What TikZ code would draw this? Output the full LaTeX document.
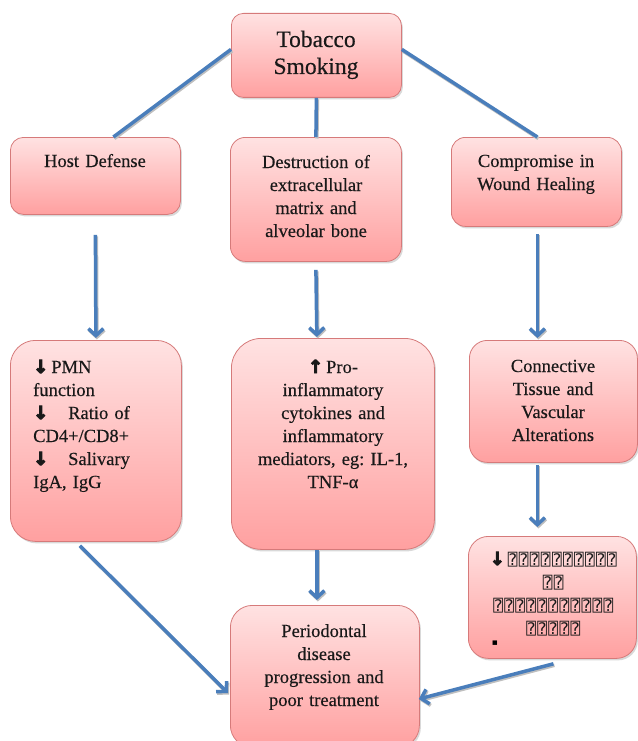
\documentclass[tikz,border=0pt]{standalone}
\usepackage{fontspec}
\setmainfont{Liberation Serif}[FakeBold=0.3]
\newfontfamily\dejavu{DejaVu Sans}
\newfontfamily\arrowfont{DejaVu Sans Bold}[FakeBold=5]
\newfontfamily\dejamono{DejaVu Sans Mono}
\usetikzlibrary{arrows.meta,shadows,calc}
\frenchspacing
\definecolor{boxtop}{RGB}{255,226,226}
\definecolor{boxbot}{RGB}{255,160,160}
\definecolor{boxline}{RGB}{214,122,122}
\definecolor{conn}{RGB}{74,126,187}
\newcommand{\dn}{{\arrowfont\fontsize{18}{18}\selectfont ↓}}
\newcommand{\up}{{\arrowfont\fontsize{18}{18}\selectfont ↑}}
\newcommand{\tf}{{\dejamono\fontsize{16}{16}\selectfont ⍰}\kern1.4pt}
\tikzset{
  pbox/.style={draw=boxline, line width=0.8pt, top color=boxtop, bottom color=boxbot,
    anchor=north west, inner sep=0pt,
    drop shadow={shadow xshift=1.5pt, shadow yshift=-2pt, opacity=0.25, fill=black!60}},
  txt/.style={font=\fontsize{18.5}{23}\selectfont, align=center, inner sep=0pt, anchor=base, text=black!90},
  link/.style={draw=conn, line width=3.5pt,
    preaction={draw=black!25, line width=3.5pt, transform canvas={shift={(1pt,-1.5pt)}}}},
  arr/.style={link, -{Straight Barb[length=7pt,width=15pt]}},
}
\begin{document}
\begin{tikzpicture}[x=1pt,y=-1pt]
\useasboundingbox (0,0) rectangle (637,741);
% boxes
\node[pbox, rounded corners=12pt, minimum width=170pt, minimum height=84pt] (tob) at (231,13) {};
\node[pbox, rounded corners=13pt, minimum width=170pt, minimum height=77pt] (host) at (10,137) {};
\node[pbox, rounded corners=15pt, minimum width=171pt, minimum height=124pt] (dest) at (230,137) {};
\node[pbox, rounded corners=14pt, minimum width=170pt, minimum height=89pt] (comp) at (451,137) {};
\node[pbox, rounded corners=25pt, minimum width=171pt, minimum height=201pt] (pmn) at (10,340) {};
\node[pbox, rounded corners=30pt, minimum width=203pt, minimum height=211pt] (pro) at (231,338) {};
\node[pbox, rounded corners=18pt, minimum width=168pt, minimum height=122pt] (cnt) at (469,340) {};
\node[pbox, rounded corners=20pt, minimum width=168pt, minimum height=122pt] (br) at (468,536) {};
\node[pbox, rounded corners=22pt, minimum width=189pt, minimum height=142pt] (peri) at (230,605) {};
% texts
\node[txt, font=\fontsize{23.5}{27}\selectfont, text width=160pt] (ttob) at (316,47) {Tobacco\\Smoking};
\node[txt, text width=160pt] (thost) at (95,167) {Host Defense};
\node[txt, text width=165pt] (tdest) at (316,168) {Destruction of\\extracellular\\matrix and\\alveolar bone};
\node[txt, text width=165pt] (tcomp) at (536,167) {Compromise in\\Wound Healing};
\node[txt, align=left, anchor=base west, text width=145pt] (tpmn) at (33,373)
  {\dn\,PMN\\function\\\makebox[35pt][l]{\dn}Ratio of\\CD4+/CD8+\\\makebox[35pt][l]{\dn}Salivary\\IgA, IgG};
\node[txt, text width=198pt] (tpro) at (333,373)
  {\up\,Pro-\\inflammatory\\cytokines and\\inflammatory\\mediators, eg: IL-1,\\TNF-α};
\node[txt, text width=165pt] (tcnt) at (553,372) {Connective\\Tissue and\\Vascular\\Alterations};
\node[txt, text width=165pt] (tbr) at (554,565)
  {\dn\kern3pt\tf\tf\tf\tf\tf\tf\tf\tf\tf\tf\\\tf\tf\\\tf\tf\tf\tf\tf\tf\tf\tf\tf\tf\tf\\\tf\tf\tf\tf\tf};
\node[inner sep=0pt, font=\dejavu\fontsize{9}{9}\selectfont] (dot) at (495,643) {▪};
\node[txt, text width=185pt] (tperi) at (324,637) {Periodontal\\disease\\progression and\\poor treatment};
% connectors
\draw[link] ([yshift=6pt]tob.west) -- ([xshift=18pt]host.north);
\draw[link] (tob.south) -- (dest.north);
\draw[link] ([yshift=6pt]tob.east) -- ([xshift=1pt]comp.north);
\draw[arr] ([xshift=0pt,yshift=-20pt]host.south) -- ([yshift=2pt]pmn.north);
\draw[arr] ([yshift=-8pt]dest.south) -- ([xshift=-16pt,yshift=1pt]pro.north);
\draw[arr] ([xshift=1pt,yshift=-7pt]comp.south) -- ([xshift=-16pt,yshift=2pt]cnt.north);
\draw[arr] ([xshift=-16pt,yshift=-2pt]cnt.south) -- ([xshift=-15pt,yshift=9pt]br.north);
\draw[arr] ([xshift=-16pt]pro.south) -- ([xshift=-8pt,yshift=5pt]peri.north);
\draw[arr] ([xshift=-16pt,yshift=-4pt]pmn.south) -- ([xshift=-2pt,yshift=-88pt]peri.north west);
\draw[arr] ([xshift=1pt,yshift=-5pt]br.south) -- ([xshift=-1pt,yshift=-94pt]peri.north east);
\end{tikzpicture}
\end{document}
